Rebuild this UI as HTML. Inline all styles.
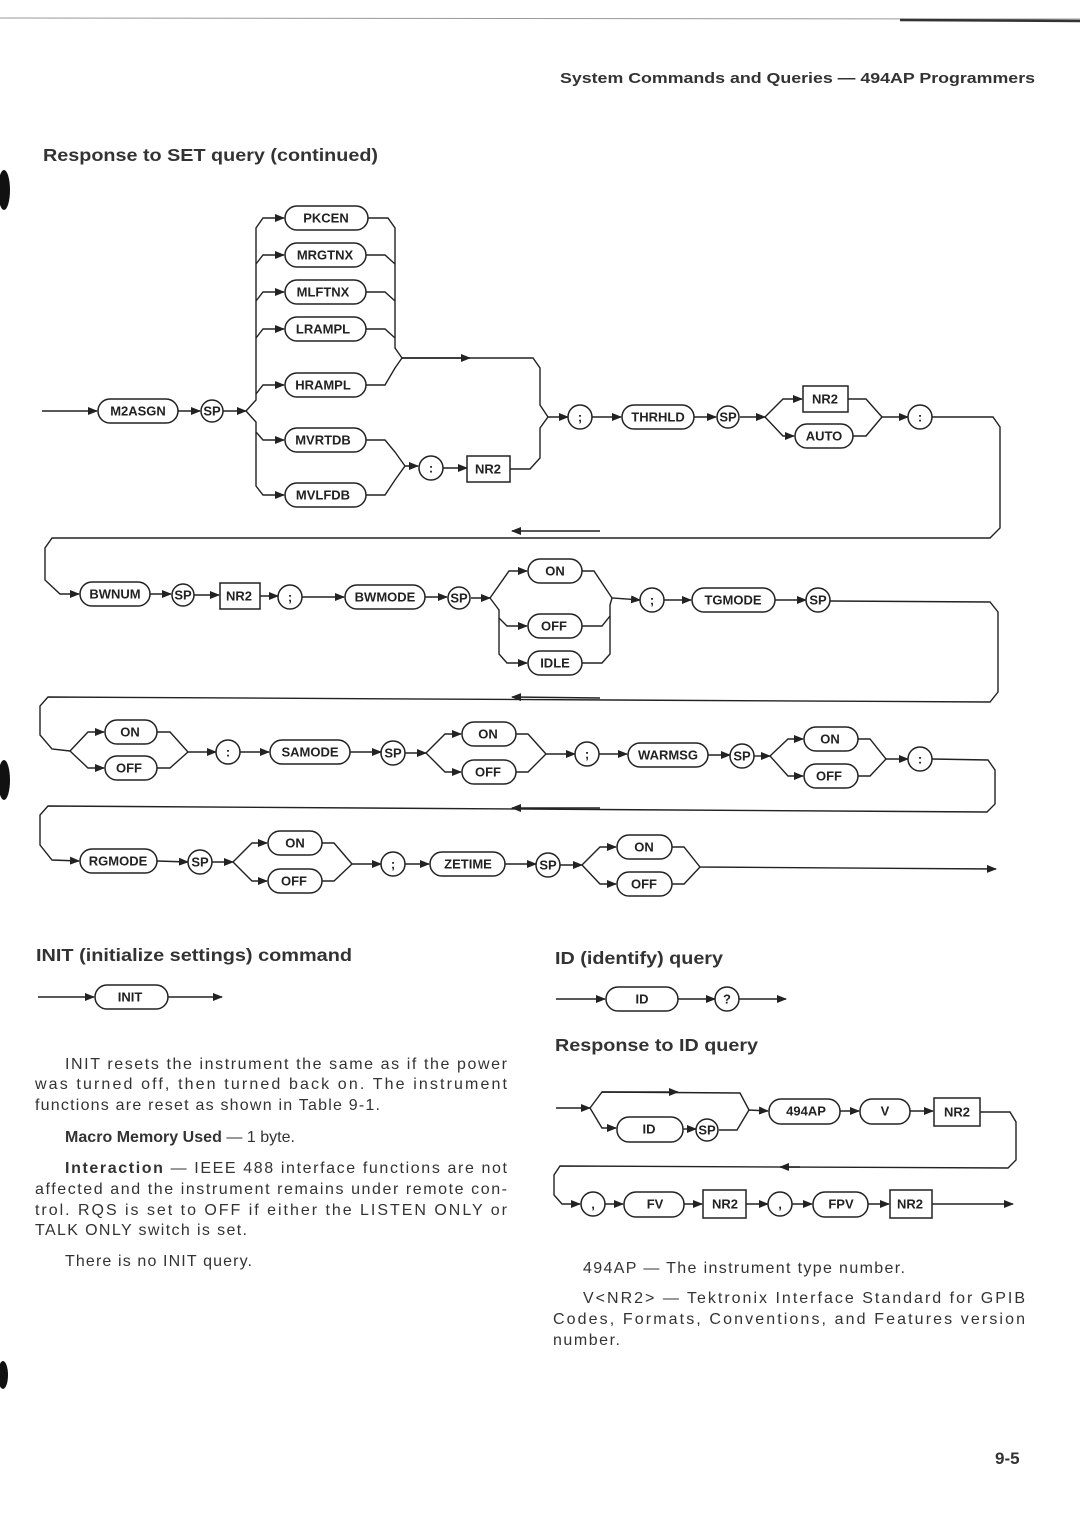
<!DOCTYPE html>
<html><head><meta charset="utf-8">
<style>
html,body{margin:0;padding:0;background:#fff;}
body{width:1080px;height:1528px;overflow:hidden;position:relative;font-family:"Liberation Sans",sans-serif;color:#222;}
svg{position:absolute;left:0;top:0;}
.n{fill:#fff;stroke:#222;stroke-width:1.5;}
.l{fill:none;stroke:#222;stroke-width:1.4;}
.t{font-family:"Liberation Sans",sans-serif;font-weight:bold;font-size:13px;fill:#222;text-anchor:middle;dominant-baseline:central;}
.h{font-family:"Liberation Sans",sans-serif;font-size:17.5px;font-weight:bold;fill:#333;}
.b{font-family:"Liberation Sans",sans-serif;font-size:16px;fill:#333;}
</style></head><body>
<svg width="1080" height="1528" viewBox="0 0 1080 1528">
<defs><marker id="a" markerWidth="10" markerHeight="8" refX="9" refY="4" orient="auto" markerUnits="userSpaceOnUse"><path d="M0,0 L10,4 L0,8 z" fill="#222"/></marker></defs>
<line x1="0" y1="18" x2="1080" y2="19" stroke="#999" stroke-width="1"/>
<line x1="900" y1="20" x2="1080" y2="21" stroke="#333" stroke-width="2.5"/>
<text x="560" y="83" font-size="15" font-weight="bold" fill="#333" textLength="475" lengthAdjust="spacingAndGlyphs">System Commands and Queries — 494AP Programmers</text>
<text class="h" x="43" y="161" textLength="335" lengthAdjust="spacingAndGlyphs">Response to SET query (continued)</text>

<!-- Row 1 -->
<g class="l">
<line x1="42" y1="411" x2="97" y2="411" marker-end="url(#a)"/>
<line x1="178" y1="411" x2="200" y2="411" marker-end="url(#a)"/>
<line x1="223" y1="411" x2="246" y2="411" marker-end="url(#a)"/>
<path d="M246,411 L256,400 L256,228 L263,218 L284,218" marker-end="url(#a)"/>
<path d="M256,264 L263,255 L284,255" marker-end="url(#a)"/>
<path d="M256,301 L263,292 L284,292" marker-end="url(#a)"/>
<path d="M256,338 L263,329 L284,329" marker-end="url(#a)"/>
<path d="M256,394 L263,385 L284,385" marker-end="url(#a)"/>
<path d="M246,411 L256,422 L256,432 L263,440 L284,440" marker-end="url(#a)"/>
<path d="M256,432 L256,486 L263,495 L284,495" marker-end="url(#a)"/>
<path d="M368,218 L388,218 L395,228 L395,348 L402,358"/>
<path d="M366,255 L385,255 L395,264"/>
<path d="M366,292 L385,292 L395,301"/>
<path d="M366,329 L385,329 L395,338"/>
<path d="M366,385 L385,385 L395,368 L402,358"/>
<path d="M402,358 L533,358 L540,368 L540,405 L548,417"/>
<line x1="402" y1="358" x2="470" y2="358" marker-end="url(#a)"/>
<path d="M366,440 L385,440 L395,452 L405,466"/>
<path d="M366,495 L385,495 L395,480 L405,466 L418,466" marker-end="url(#a)"/>
<line x1="443" y1="468" x2="467" y2="468" marker-end="url(#a)"/>
<path d="M510,469 L530,469 L540,458 L540,428 L548,417 L568,417" marker-end="url(#a)"/>
<line x1="592" y1="417" x2="621" y2="417" marker-end="url(#a)"/>
<line x1="694" y1="417" x2="716" y2="417" marker-end="url(#a)"/>
<line x1="740" y1="417" x2="765" y2="417" marker-end="url(#a)"/>
<path d="M765,417 L783,399 L802,399" marker-end="url(#a)"/>
<path d="M765,417 L783,436 L794,436" marker-end="url(#a)"/>
<path d="M848,399 L866,399 L882,417 L908,417" marker-end="url(#a)"/>
<path d="M853,436 L866,436 L882,417"/>
<path d="M932,417 L993,417 L1000,427 L1000,528 L990,538 L52,538 L45,548 L45,580 L60,594 L79,594" marker-end="url(#a)"/>
<line x1="600" y1="531" x2="512" y2="531" marker-end="url(#a)"/>
</g>
<rect class="n" x="98" y="399" width="80" height="24" rx="12"/><text class="t" x="138" y="411">M2ASGN</text>
<circle class="n" cx="212" cy="411" r="11"/><text class="t" x="212" y="411">SP</text>
<rect class="n" x="285" y="206" width="83" height="24" rx="12"/><text class="t" x="326" y="218">PKCEN</text>
<rect class="n" x="285" y="243" width="81" height="24" rx="12"/><text class="t" x="325" y="255">MRGTNX</text>
<rect class="n" x="285" y="280" width="81" height="24" rx="12"/><text class="t" x="323" y="292">MLFTNX</text>
<rect class="n" x="285" y="317" width="81" height="24" rx="12"/><text class="t" x="323" y="329">LRAMPL</text>
<rect class="n" x="285" y="373" width="81" height="24" rx="12"/><text class="t" x="323" y="385">HRAMPL</text>
<rect class="n" x="285" y="428" width="81" height="24" rx="12"/><text class="t" x="323" y="440">MVRTDB</text>
<rect class="n" x="285" y="483" width="81" height="24" rx="12"/><text class="t" x="323" y="495">MVLFDB</text>
<circle class="n" cx="431" cy="468" r="12"/><text class="t" x="431" y="468">:</text>
<rect class="n" x="467" y="456" width="43" height="26"/><text class="t" x="488" y="469">NR2</text>
<circle class="n" cx="580" cy="417" r="12"/><text class="t" x="580" y="417">;</text>
<rect class="n" x="622" y="405" width="72" height="24" rx="12"/><text class="t" x="658" y="417">THRHLD</text>
<circle class="n" cx="728" cy="417" r="11"/><text class="t" x="728" y="417">SP</text>
<rect class="n" x="803" y="386" width="45" height="26"/><text class="t" x="825" y="399">NR2</text>
<rect class="n" x="795" y="424" width="58" height="24" rx="12"/><text class="t" x="824" y="436">AUTO</text>
<circle class="n" cx="920" cy="417" r="12"/><text class="t" x="920" y="417">:</text>

<!-- Row 2 -->
<g class="l">
<line x1="150" y1="594" x2="171" y2="594" marker-end="url(#a)"/>
<line x1="194" y1="595" x2="219" y2="595" marker-end="url(#a)"/>
<line x1="260" y1="596" x2="278" y2="596" marker-end="url(#a)"/>
<line x1="302" y1="597" x2="344" y2="597" marker-end="url(#a)"/>
<line x1="425" y1="597" x2="447" y2="597" marker-end="url(#a)"/>
<line x1="471" y1="598" x2="490" y2="598" marker-end="url(#a)"/>
<path d="M490,598 L509,571 L527,571" marker-end="url(#a)"/>
<path d="M490,598 L499,610 L499,618 L507,626 L527,626" marker-end="url(#a)"/>
<path d="M499,618 L499,654 L507,663 L527,663" marker-end="url(#a)"/>
<path d="M582,571 L594,571 L612,598 L640,600" marker-end="url(#a)"/>
<path d="M582,626 L602,626 L610,616 L610,605 L612,598"/>
<path d="M582,663 L602,663 L610,654 L610,616"/>
<line x1="664" y1="600" x2="691" y2="600" marker-end="url(#a)"/>
<line x1="775" y1="600" x2="806" y2="600" marker-end="url(#a)"/>
<path d="M830,601 L990,602 L998,612 L998,692 L990,702 L48,697 L40,706 L40,735 L52,749 L70,751"/>
<line x1="600" y1="698" x2="512" y2="697" marker-end="url(#a)"/>
</g>
<rect class="n" x="80" y="582" width="70" height="24" rx="12"/><text class="t" x="115" y="594">BWNUM</text>
<circle class="n" cx="183" cy="595" r="11"/><text class="t" x="183" y="595">SP</text>
<rect class="n" x="220" y="583" width="40" height="26"/><text class="t" x="239" y="596">NR2</text>
<circle class="n" cx="290" cy="597" r="12"/><text class="t" x="290" y="597">;</text>
<rect class="n" x="345" y="585" width="80" height="24" rx="12"/><text class="t" x="385" y="597">BWMODE</text>
<circle class="n" cx="459" cy="598" r="11"/><text class="t" x="459" y="598">SP</text>
<rect class="n" x="528" y="559" width="54" height="24" rx="12"/><text class="t" x="555" y="571">ON</text>
<rect class="n" x="528" y="614" width="54" height="24" rx="12"/><text class="t" x="554" y="626">OFF</text>
<rect class="n" x="528" y="651" width="54" height="24" rx="12"/><text class="t" x="555" y="663">IDLE</text>
<circle class="n" cx="652" cy="600" r="12"/><text class="t" x="652" y="600">;</text>
<rect class="n" x="692" y="588" width="83" height="24" rx="12"/><text class="t" x="733" y="600">TGMODE</text>
<circle class="n" cx="818" cy="600" r="12"/><text class="t" x="818" y="600">SP</text>

<!-- Row 3 -->
<g class="l">
<path d="M70,751 L88,732 L104,732" marker-end="url(#a)"/>
<path d="M70,751 L88,768 L104,768" marker-end="url(#a)"/>
<path d="M157,732 L170,732 L188,752 L216,752" marker-end="url(#a)"/>
<path d="M157,768 L170,768 L188,752"/>
<line x1="240" y1="752" x2="269" y2="752" marker-end="url(#a)"/>
<line x1="350" y1="752" x2="381" y2="752" marker-end="url(#a)"/>
<line x1="405" y1="753" x2="426" y2="753" marker-end="url(#a)"/>
<path d="M426,753 L445,734 L461,734" marker-end="url(#a)"/>
<path d="M426,753 L445,772 L461,772" marker-end="url(#a)"/>
<path d="M516,734 L528,734 L546,754 L575,754" marker-end="url(#a)"/>
<path d="M516,772 L528,772 L546,754"/>
<line x1="599" y1="754" x2="627" y2="754" marker-end="url(#a)"/>
<line x1="708" y1="755" x2="730" y2="755" marker-end="url(#a)"/>
<line x1="754" y1="756" x2="770" y2="756" marker-end="url(#a)"/>
<path d="M770,756 L788,739 L803,739" marker-end="url(#a)"/>
<path d="M770,756 L788,776 L803,776" marker-end="url(#a)"/>
<path d="M858,739 L870,739 L886,759 L908,759" marker-end="url(#a)"/>
<path d="M858,776 L870,776 L886,759"/>
<path d="M932,759 L988,760 L995,770 L995,804 L987,812 L48,806 L40,815 L40,845 L52,860 L79,861" marker-end="url(#a)"/>
<line x1="600" y1="808" x2="512" y2="808" marker-end="url(#a)"/>
</g>
<rect class="n" x="105" y="720" width="52" height="24" rx="12"/><text class="t" x="130" y="732">ON</text>
<rect class="n" x="105" y="756" width="52" height="24" rx="12"/><text class="t" x="129" y="768">OFF</text>
<circle class="n" cx="228" cy="752" r="12"/><text class="t" x="228" y="752">:</text>
<rect class="n" x="270" y="740" width="80" height="24" rx="12"/><text class="t" x="310" y="752">SAMODE</text>
<circle class="n" cx="393" cy="753" r="12"/><text class="t" x="393" y="753">SP</text>
<rect class="n" x="462" y="722" width="54" height="24" rx="12"/><text class="t" x="488" y="734">ON</text>
<rect class="n" x="462" y="760" width="54" height="24" rx="12"/><text class="t" x="488" y="772">OFF</text>
<circle class="n" cx="587" cy="754" r="12"/><text class="t" x="587" y="754">;</text>
<rect class="n" x="628" y="743" width="80" height="24" rx="12"/><text class="t" x="668" y="755">WARMSG</text>
<circle class="n" cx="742" cy="756" r="12"/><text class="t" x="742" y="756">SP</text>
<rect class="n" x="804" y="727" width="54" height="24" rx="12"/><text class="t" x="830" y="739">ON</text>
<rect class="n" x="804" y="764" width="54" height="24" rx="12"/><text class="t" x="829" y="776">OFF</text>
<circle class="n" cx="920" cy="759" r="12"/><text class="t" x="920" y="759">:</text>

<!-- Row 4 -->
<g class="l">
<line x1="157" y1="861" x2="188" y2="862" marker-end="url(#a)"/>
<line x1="212" y1="862" x2="233" y2="862" marker-end="url(#a)"/>
<path d="M233,862 L252,843 L267,843" marker-end="url(#a)"/>
<path d="M233,862 L252,881 L267,881" marker-end="url(#a)"/>
<path d="M322,843 L334,843 L352,864 L381,864" marker-end="url(#a)"/>
<path d="M322,881 L334,881 L352,864"/>
<line x1="405" y1="864" x2="429" y2="864" marker-end="url(#a)"/>
<line x1="505" y1="864" x2="536" y2="864" marker-end="url(#a)"/>
<line x1="560" y1="865" x2="582" y2="865" marker-end="url(#a)"/>
<path d="M582,865 L600,847 L616,847" marker-end="url(#a)"/>
<path d="M582,865 L600,884 L616,884" marker-end="url(#a)"/>
<path d="M672,847 L684,847 L700,867 L996,869" marker-end="url(#a)"/>
<path d="M672,884 L684,884 L700,867"/>
</g>
<rect class="n" x="80" y="849" width="77" height="24" rx="12"/><text class="t" x="118" y="861">RGMODE</text>
<circle class="n" cx="200" cy="862" r="12"/><text class="t" x="200" y="862">SP</text>
<rect class="n" x="268" y="831" width="54" height="24" rx="12"/><text class="t" x="295" y="843">ON</text>
<rect class="n" x="268" y="869" width="54" height="24" rx="12"/><text class="t" x="294" y="881">OFF</text>
<circle class="n" cx="393" cy="864" r="12"/><text class="t" x="393" y="864">;</text>
<rect class="n" x="430" y="852" width="75" height="24" rx="12"/><text class="t" x="468" y="864">ZETIME</text>
<circle class="n" cx="548" cy="865" r="12"/><text class="t" x="548" y="865">SP</text>
<rect class="n" x="617" y="835" width="55" height="24" rx="12"/><text class="t" x="644" y="847">ON</text>
<rect class="n" x="617" y="872" width="55" height="24" rx="12"/><text class="t" x="644" y="884">OFF</text>

<!-- INIT -->
<text class="h" x="36" y="961" textLength="316" lengthAdjust="spacingAndGlyphs">INIT (initialize settings) command</text>
<g class="l">
<line x1="38" y1="997" x2="94" y2="997" marker-end="url(#a)"/>
<line x1="168" y1="997" x2="222" y2="997" marker-end="url(#a)"/>
</g>
<rect class="n" x="95" y="985" width="73" height="24" rx="12"/><text class="t" x="130" y="997" font-size="11">INIT</text>

<!-- ID -->
<text class="h" x="555" y="964" textLength="168" lengthAdjust="spacingAndGlyphs">ID (identify) query</text>
<g class="l">
<line x1="556" y1="999" x2="605" y2="999" marker-end="url(#a)"/>
<line x1="678" y1="999" x2="715" y2="999" marker-end="url(#a)"/>
<line x1="739" y1="999" x2="786" y2="999" marker-end="url(#a)"/>
</g>
<rect class="n" x="606" y="987" width="72" height="24" rx="12"/><text class="t" x="642" y="999" font-size="11">ID</text>
<circle class="n" cx="727" cy="999" r="12"/><text class="t" x="727" y="999">?</text>
<text class="h" x="555" y="1051" textLength="203" lengthAdjust="spacingAndGlyphs">Response to ID query</text>
<g class="l">
<line x1="556" y1="1108" x2="590" y2="1108" marker-end="url(#a)"/>
<path d="M590,1108 L602,1092 L740,1093 L749,1110"/>
<line x1="602" y1="1092" x2="678" y2="1092" marker-end="url(#a)"/>
<path d="M590,1108 L602,1128 L616,1128" marker-end="url(#a)"/>
<line x1="683" y1="1129" x2="696" y2="1129" marker-end="url(#a)"/>
<path d="M719,1130 L737,1130 L749,1110 L768,1111" marker-end="url(#a)"/>
<line x1="840" y1="1111" x2="859" y2="1111" marker-end="url(#a)"/>
<line x1="910" y1="1111" x2="933" y2="1111" marker-end="url(#a)"/>
<path d="M980,1112 L1010,1112 L1016,1122 L1016,1160 L1008,1168 L560,1166 L554,1175 L554,1195 L562,1204 L580,1204" marker-end="url(#a)"/>
<line x1="800" y1="1167" x2="780" y2="1167" marker-end="url(#a)"/>
<line x1="604" y1="1204" x2="623" y2="1204" marker-end="url(#a)"/>
<line x1="684" y1="1204" x2="702" y2="1204" marker-end="url(#a)"/>
<line x1="746" y1="1204" x2="768" y2="1204" marker-end="url(#a)"/>
<line x1="792" y1="1204" x2="812" y2="1204" marker-end="url(#a)"/>
<line x1="868" y1="1204" x2="889" y2="1204" marker-end="url(#a)"/>
<line x1="932" y1="1204" x2="1013" y2="1204" marker-end="url(#a)"/>
</g>
<rect class="n" x="617" y="1117" width="66" height="25" rx="12"/><text class="t" x="649" y="1129">ID</text>
<circle class="n" cx="707" cy="1130" r="11"/><text class="t" x="707" y="1130">SP</text>
<rect class="n" x="769" y="1099" width="71" height="25" rx="12"/><text class="t" x="806" y="1111">494AP</text>
<rect class="n" x="860" y="1099" width="50" height="25" rx="12"/><text class="t" x="885" y="1111">V</text>
<rect class="n" x="934" y="1098" width="46" height="28"/><text class="t" x="957" y="1112">NR2</text>
<circle class="n" cx="593" cy="1204" r="12"/><text class="t" x="593" y="1204">,</text>
<rect class="n" x="624" y="1192" width="60" height="25" rx="12"/><text class="t" x="655" y="1204">FV</text>
<rect class="n" x="703" y="1190" width="43" height="28"/><text class="t" x="725" y="1204">NR2</text>
<circle class="n" cx="780" cy="1204" r="12"/><text class="t" x="780" y="1204">,</text>
<rect class="n" x="813" y="1192" width="55" height="25" rx="12"/><text class="t" x="841" y="1204">FPV</text>
<rect class="n" x="890" y="1190" width="42" height="28"/><text class="t" x="910" y="1204">NR2</text>

<!-- body text -->
<g class="b">
<text x="65" y="1069" textLength="442" lengthAdjust="spacing">INIT resets the instrument the same as if the power</text>
<text x="35" y="1089" textLength="472" lengthAdjust="spacing">was turned off, then turned back on. The instrument</text>
<text x="35" y="1110" textLength="345" lengthAdjust="spacing">functions are reset as shown in Table 9-1.</text>
<text x="65" y="1142" textLength="230" lengthAdjust="spacing"><tspan font-weight="bold">Macro Memory Used</tspan> — 1 byte.</text>
<text x="65" y="1173" textLength="442" lengthAdjust="spacing"><tspan font-weight="bold">Interaction</tspan> — IEEE 488 interface functions are not</text>
<text x="35" y="1194" textLength="472" lengthAdjust="spacing">affected and the instrument remains under remote con-</text>
<text x="35" y="1215" textLength="472" lengthAdjust="spacing">trol. RQS is set to OFF if either the LISTEN ONLY or</text>
<text x="35" y="1235" textLength="212" lengthAdjust="spacing">TALK ONLY switch is set.</text>
<text x="65" y="1266" textLength="187" lengthAdjust="spacing">There is no INIT query.</text>
<text x="583" y="1273" textLength="322" lengthAdjust="spacing">494AP — The instrument type number.</text>
<text x="583" y="1303" textLength="442" lengthAdjust="spacing">V&lt;NR2&gt; — Tektronix Interface Standard for GPIB</text>
<text x="553" y="1324" textLength="472" lengthAdjust="spacing">Codes, Formats, Conventions, and Features version</text>
<text x="553" y="1345" textLength="67" lengthAdjust="spacing">number.</text>
</g>

<text x="995" y="1464" font-size="17" font-weight="bold" fill="#333">9-5</text>
<ellipse cx="4" cy="190" rx="6" ry="20" fill="#111"/>
<ellipse cx="4" cy="780" rx="6" ry="20" fill="#111"/>
<ellipse cx="3" cy="1375" rx="5" ry="14" fill="#111"/>
</svg>
</body></html>
